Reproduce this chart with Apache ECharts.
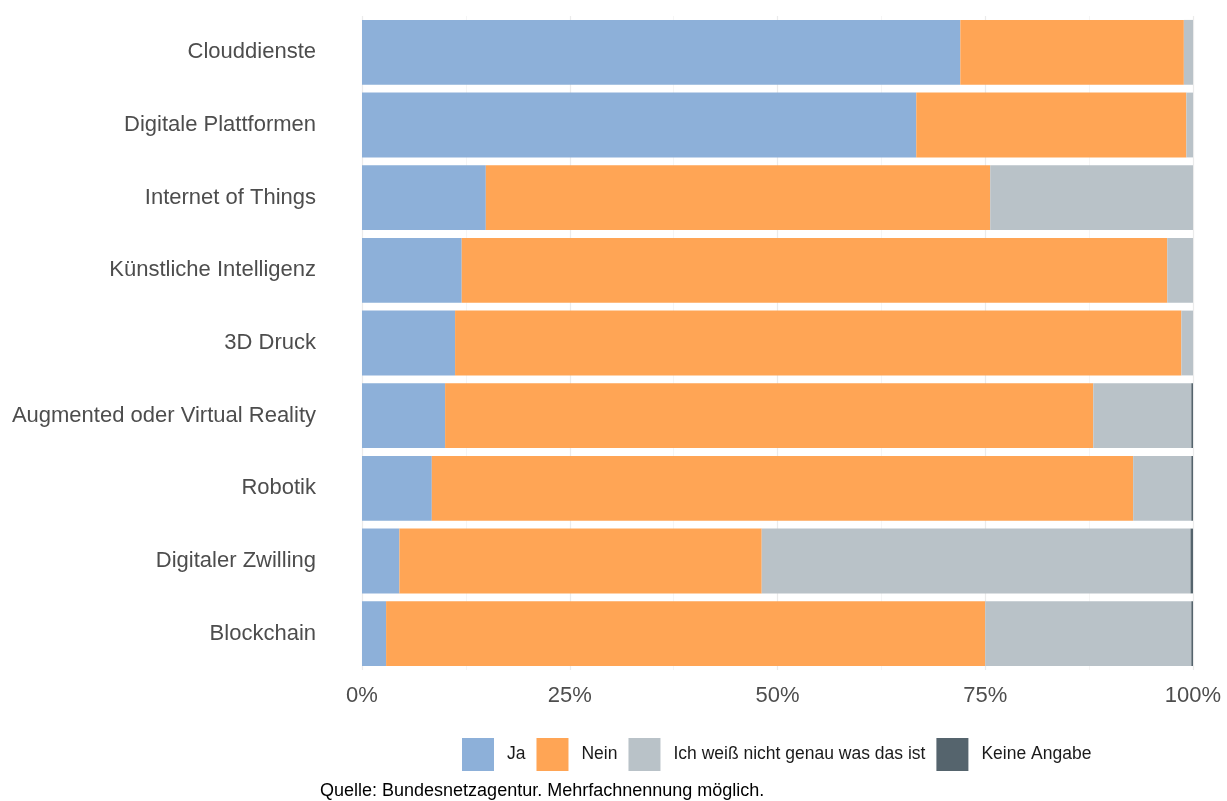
<!DOCTYPE html>
<html>
<head>
<meta charset="utf-8">
<script src="https://cdn.jsdelivr.net/npm/echarts@6/dist/echarts.min.js"></script>
<style>
  html, body { margin: 0; padding: 0; background: #ffffff; }
  #chart { width: 1227px; height: 801px; }
</style>
</head>
<body>
<div id="chart"></div>
<script>
// Technologies, top to bottom
const categories = [
  'Clouddienste',
  'Digitale Plattformen',
  'Internet of Things',
  'Künstliche Intelligenz',
  '3D Druck',
  'Augmented oder Virtual Reality',
  'Robotik',
  'Digitaler Zwilling',
  'Blockchain'
];

// Shares of answers in percent, same order as categories
const ja        = [72.0, 66.7, 14.9, 12.0, 11.2, 10.0,  8.4,  4.5,  2.9];
const nein      = [26.9, 32.5, 60.7, 84.9, 87.4, 78.0, 84.4, 43.6, 72.1];
const weissNicht = [1.1,  0.8, 24.4,  3.1,  1.4, 11.8,  7.0, 51.6, 24.8];
const keineAngabe = [0.0, 0.0,  0.0,  0.0,  0.0,  0.2,  0.2,  0.3,  0.2];

const xTicks = [0, 25, 50, 75, 100];

const seriesDefs = [
  { name: 'Ja', data: ja, color: '#8db0d9' },
  { name: 'Nein', data: nein, color: '#ffa555' },
  { name: 'Ich weiß nicht genau was das ist', data: weissNicht, color: '#b9c2c8' },
  { name: 'Keine Angabe', data: keineAngabe, color: '#55646d' }
];

const textColor = '#4d4d4d';
const fontFamily = 'Liberation Sans, Arial, sans-serif';

const chart = echarts.init(document.getElementById('chart'), null, { renderer: 'canvas' });

chart.setOption({
  backgroundColor: '#ffffff',
  animation: false,
  textStyle: { fontFamily: fontFamily },
  grid: { left: 362, right: 34, top: 16, bottom: 131, containLabel: false },
  legend: {
    top: 733,
    left: 457,
    itemWidth: 32,
    itemHeight: 33,
    itemGap: 11,
    icon: 'rect',
    textStyle: { fontSize: 17.5, color: '#1a1a1a', fontFamily: fontFamily, padding: [0, 0, 0, 8] },
    data: seriesDefs.map(s => s.name)
  },
  xAxis: {
    type: 'value',
    min: 0,
    max: 100,
    interval: 25,
    axisLine: { show: false },
    axisTick: { show: false },
    axisLabel: {
      fontSize: 22,
      color: textColor,
      margin: 15,
      formatter: v => xTicks.includes(v) ? v + '%' : ''
    },
    splitLine: { show: true, lineStyle: { color: '#ebebeb', width: 1.2 } },
    minorTick: { show: false, splitNumber: 2 },
    minorSplitLine: { show: true, lineStyle: { color: '#f2f2f2', width: 0.8 } }
  },
  yAxis: {
    type: 'category',
    data: categories,
    inverse: true,
    axisLine: { show: false },
    axisTick: { show: false },
    axisLabel: { fontSize: 22, color: textColor, margin: 46 },
    splitLine: { show: false }
  },
  graphic: [{
    type: 'text',
    left: 320,
    top: 782,
    style: {
      text: 'Quelle: Bundesnetzagentur. Mehrfachnennung möglich.',
      fontSize: 18,
      fill: '#000000',
      fontFamily: fontFamily
    }
  }],
  series: seriesDefs.map(s => ({
    name: s.name,
    type: 'bar',
    stack: 'total',
    barCategoryGap: '10.8%',
    data: s.data,
    itemStyle: { color: s.color },
    emphasis: { disabled: true }
  }))
});
</script>
</body>
</html>
